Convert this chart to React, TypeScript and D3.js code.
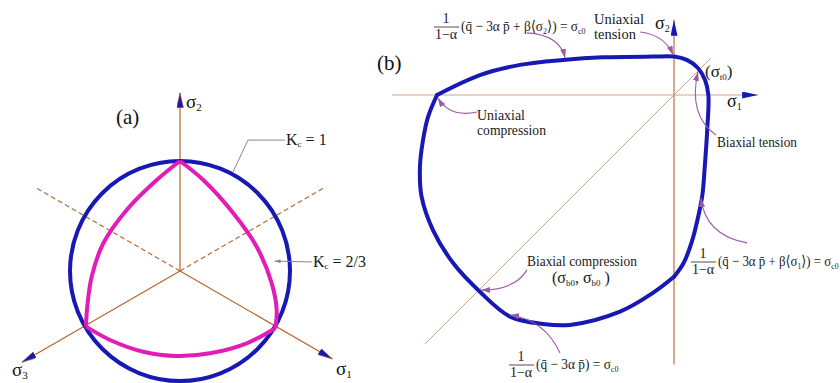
import React, { useLayoutEffect, useRef, useState } from 'react';
import * as d3 from 'd3';

// ---------- Panel (a): deviatoric plane ----------
// Principal stress axes: angle in degrees (counter-clockwise from +x), length in units of the circle radius
const axisNamesA = ['1', '2', '3'];
const axisAnglesA = [-30, 90, 210];
const axisLengthsA = [1.6, 1.62, 1.66];
// Dashed projection lines
const dashAnglesA = [30, 150];
const dashLengthA = 1.5;
// Kc = 1 gives a circle of unit radius
const kcCircleRadius = 1;
// Kc = 2/3 section, three sides between the meridian vertices (unit coordinates, y up)
const kcTwoThirdsSides: [number, number][][] = [
  [[0, 1], [0.212, 0.827], [0.485, 0.525], [0.697, 0.221], [0.834, -0.112], [0.879, -0.355], [0.866, -0.52]],
  [[0.866, -0.52], [0.606, -0.657], [0.273, -0.748], [-0.03, -0.773], [-0.334, -0.734], [-0.636, -0.627], [-0.855, -0.506]],
  [[-0.855, -0.506], [-0.843, -0.325], [-0.803, -0.052], [-0.697, 0.252], [-0.485, 0.555], [-0.212, 0.827], [0, 1]],
];
const kcLabelTexts = ['1', '2/3'];
const kcLeaders: [number, number][][] = [
  [[0.955, 1.19], [0.618, 1.19], [0.482, 0.9]],
  [[1.2, 0.082], [0.86, 0.09]],
];

// ---------- Panel (b): plane stress yield surface (σ1, σ2), normalised by σc0 ----------
const yieldUpper: [number, number][] = [
  [-1.0, 0], [-0.819, 0.084], [-0.65, 0.127], [-0.468, 0.148], [-0.3, 0.159], [-0.089, 0.162], [0, 0.162],
  [0.054, 0.148], [0.101, 0.114], [0.131, 0.063], [0.145, 0], [0.14, -0.15], [0.13, -0.3],
  [0.12, -0.42], [0.105, -0.5], [0.075, -0.62], [0.04, -0.71], [0, -0.767],
];
const yieldLower: [number, number][] = [
  [0, -0.767], [-0.089, -0.835], [-0.228, -0.914], [-0.439, -0.97], [-0.553, -0.966], [-0.692, -0.935],
  [-0.819, -0.83], [-0.932, -0.709], [-1.017, -0.57], [-1.065, -0.429], [-1.072, -0.304], [-1.059, -0.19],
  [-1.038, -0.093], [-1.0, 0],
];
// Axis extents
const sigma1Extent = [-1.19, 0.355];
const sigma2Extent = [-1.137, 0.317];
const diagonalExtent = [-1.05, 0.155];
// Annotation arrows: start, control, end
const annotationArrows: [number, number][][] = [
  [[-0.62, 0.262], [-0.481, 0.253], [-0.46, 0.156]],
  [[-0.143, 0.266], [-0.038, 0.253], [-0.004, 0.169]],
  [[0.177, -0.169], [0.059, -0.084], [0.101, 0.097]],
  [[-0.831, -0.072], [-0.945, -0.097], [-0.996, -0.013]],
  [[0.308, -0.624], [0.131, -0.591], [0.114, -0.435]],
  [[-0.62, -0.738], [-0.671, -0.823], [-0.814, -0.823]],
  [[-0.481, -1.089], [-0.544, -0.949], [-0.692, -0.928]],
];

const BLUE = '#1818b4';
const PINK = '#e21cb6';
const BROWN = '#b8642e';
const TAN = '#d6a484';
const PURPLE = '#9a5aa6';
const SERIF = "'Liberation Serif', 'Times New Roman', Tinos, 'DejaVu Serif', serif";

// Scales
const xa = d3.scaleLinear().domain([-1, 1]).range([70, 290]);
const ya = d3.scaleLinear().domain([-1, 1]).range([381, 161]);
const xb = d3.scaleLinear().domain([-1, 0]).range([437, 674]);
const yb = d3.scaleLinear().domain([0, -1]).range([95, 332]);

const rad = (deg: number) => (deg * Math.PI) / 180;

const lineA = d3
  .line<[number, number]>()
  .x((d) => xa(d[0]))
  .y((d) => ya(d[1]))
  .curve(d3.curveCatmullRom.alpha(0.5));
const lineB = d3
  .line<[number, number]>()
  .x((d) => xb(d[0]))
  .y((d) => yb(d[1]))
  .curve(d3.curveCatmullRom.alpha(0.5));

const serifStyle = { fontFamily: SERIF };

function Sub({ children, size = 9 }: { children: React.ReactNode; size?: number }) {
  return (
    <tspan fontSize={size} dy={3}>
      {children}
    </tspan>
  );
}

// Text stretched horizontally to a given width
function FitText({ x, y, width, children }: { x: number; y: number; width: number; children: React.ReactNode }) {
  const ref = useRef<SVGTextElement>(null);
  const [sx, setSx] = useState(1);
  useLayoutEffect(() => {
    const el = ref.current;
    if (!el) return;
    const w = el.getBBox().width;
    if (w > 0) setSx(width / w);
  }, [width]);
  return (
    <g transform={`translate(${x},${y}) scale(${sx},1)`}>
      <text ref={ref} x={0} y={0}>{children}</text>
    </g>
  );
}

// Fraction 1/(1−α) followed by the rest of the yield condition
function Formula({ x, y, width, body }: { x: number; y: number; width: number; body: React.ReactNode }) {
  return (
    <g style={serifStyle} fontSize={14} fill="#222">
      <text x={x + 13} y={y - 8} textAnchor="middle">1</text>
      <line x1={x + 1} x2={x + 26} y1={y - 4} y2={y - 4} stroke="#222" strokeWidth={0.8} />
      <text x={x + 13} y={y + 8} textAnchor="middle">1−α</text>
      <g fontSize={15}>
        <FitText x={x + 28} y={y} width={width}>{body}</FitText>
      </g>
    </g>
  );
}

export default function App() {
  const cx = xa(0);
  const cy = ya(0);
  const pinkPath = kcTwoThirdsSides.map((s) => lineA(s)).join(' ');

  return (
    <svg
      width={840}
      height={383}
      viewBox="0 0 840 383"
      style={{ position: 'absolute', left: 0, top: 0, background: '#fff' }}
    >
      <defs>
        <marker id="axArrow" viewBox="0 0 15 7" refX={15} refY={3.5} markerWidth={15} markerHeight={7}
          markerUnits="userSpaceOnUse" orient="auto">
          <path d="M0,0 L15,3.5 L0,7 Z" fill={BLUE} stroke={BROWN} strokeWidth={0.6} />
        </marker>
        <marker id="axArrowB" viewBox="0 0 16 7" refX={16} refY={3.5} markerWidth={16} markerHeight={7}
          markerUnits="userSpaceOnUse" orient="auto">
          <path d="M0,0 L16,3.5 L0,7 Z" fill={BLUE} />
        </marker>
        <marker id="purpleArrow" viewBox="0 0 9 6" refX={9} refY={3} markerWidth={9} markerHeight={6}
          markerUnits="userSpaceOnUse" orient="auto">
          <path d="M0,0 L9,3 L0,6 Z" fill={PURPLE} />
        </marker>
        <marker id="grayArrow" viewBox="0 0 6 4" refX={6} refY={2} markerWidth={6} markerHeight={4}
          markerUnits="userSpaceOnUse" orient="auto">
          <path d="M0,0 L6,2 L0,4 Z" fill="#888" />
        </marker>
      </defs>

      {/* ---------- (a) ---------- */}
      <g>
        {dashAnglesA.map((a) => (
          <line key={a} x1={cx} y1={cy}
            x2={xa(dashLengthA * Math.cos(rad(a)))} y2={ya(dashLengthA * Math.sin(rad(a)))}
            stroke={BROWN} strokeWidth={1.1} strokeDasharray="5,3" />
        ))}
        {axisAnglesA.map((a, i) => (
          <line key={a} x1={cx} y1={cy}
            x2={xa(axisLengthsA[i] * Math.cos(rad(a)))} y2={ya(axisLengthsA[i] * Math.sin(rad(a)))}
            stroke={BROWN} strokeWidth={1.2} markerEnd="url(#axArrow)" />
        ))}
        <circle cx={cx} cy={cy} r={xa(kcCircleRadius) - cx} fill="none" stroke={BLUE} strokeWidth={4} />
        <path d={pinkPath} fill="none" stroke={PINK} strokeWidth={4} strokeLinejoin="miter" />

        {kcLeaders.map((pts, i) => (
          <polyline key={i} points={pts.map((p) => `${xa(p[0])},${ya(p[1])}`).join(' ')}
            fill="none" stroke="#888" strokeWidth={1} markerEnd={i === 1 ? 'url(#grayArrow)' : undefined} />
        ))}
        <g style={serifStyle} fontSize={16} fill="#1a1a1a">
          {kcLabelTexts.map((t, i) => (
            <text key={t} x={xa(kcLeaders[i][0][0]) + 1} y={ya(kcLeaders[i][0][1]) + 5}>
              K<tspan fontSize={9} dy={2}>c</tspan>
              <tspan dy={-2}> = {t}</tspan>
            </text>
          ))}
        </g>
        <g style={serifStyle} fill="#111">
          <text x={116} y={124} fontSize={21}>(a)</text>
          <text x={186} y={108} fontSize={19}>σ<Sub size={11}>{axisNamesA[1]}</Sub></text>
          <text x={336} y={375} fontSize={19}>σ<Sub size={11}>{axisNamesA[0]}</Sub></text>
          <text x={12} y={376} fontSize={19}>σ<Sub size={11}>{axisNamesA[2]}</Sub></text>
        </g>
      </g>

      {/* ---------- (b) ---------- */}
      <g>
        <line x1={xb(sigma1Extent[0])} x2={xb(sigma1Extent[1])} y1={yb(0)} y2={yb(0)}
          stroke={TAN} strokeWidth={1.1} markerEnd="url(#axArrowB)" />
        <line x1={xb(0)} x2={xb(0)} y1={yb(sigma2Extent[0])} y2={yb(sigma2Extent[1])}
          stroke={BROWN} strokeWidth={1.1} markerEnd="url(#axArrowB)" />
        <line x1={xb(diagonalExtent[0])} y1={yb(diagonalExtent[0])} x2={xb(diagonalExtent[1])} y2={yb(diagonalExtent[1])}
          stroke={TAN} strokeWidth={1} />

        <path d={lineB(yieldUpper) ?? ''} fill="none" stroke={BLUE} strokeWidth={4} strokeLinecap="round" />
        <path d={lineB(yieldLower) ?? ''} fill="none" stroke={BLUE} strokeWidth={4} strokeLinecap="round" />

        {annotationArrows.map((a, i) => (
          <path key={i}
            d={`M${xb(a[0][0])},${yb(a[0][1])} Q${xb(a[1][0])},${yb(a[1][1])} ${xb(a[2][0])},${yb(a[2][1])}`}
            fill="none" stroke={PURPLE} strokeWidth={1.1} markerEnd="url(#purpleArrow)" />
        ))}

        <g style={serifStyle} fill="#111">
          <text x={377} y={70} fontSize={21}>(b)</text>
          <text x={655} y={29} fontSize={18}>σ<Sub size={10}>2</Sub></text>
          <text x={727} y={107} fontSize={18}>σ<Sub size={10}>1</Sub></text>
        </g>

        <g style={serifStyle} fontSize={14.5} fill="#1a1a1a">
          <text x={594} y={24}>Uniaxial</text>
          <text x={594} y={39}>tension</text>
          <text x={477} y={120} fontSize={14} textLength={48} lengthAdjust="spacingAndGlyphs">Uniaxial</text>
          <text x={477} y={135} fontSize={14} textLength={69} lengthAdjust="spacingAndGlyphs">compression</text>
          <text x={717} y={147} textLength={80} lengthAdjust="spacingAndGlyphs">Biaxial tension</text>
          <text x={527} y={266} textLength={110} lengthAdjust="spacingAndGlyphs">Biaxial compression</text>
          <text x={552} y={283} fontSize={16}>
            (σ<Sub size={9}>b0</Sub><tspan dy={-3}>, σ</tspan><Sub size={9}>b0</Sub><tspan dy={-3}>  )</tspan>
          </text>
          <text x={705} y={77} fontSize={17}>
            (σ<Sub size={9}>t0</Sub><tspan dy={-3}>)</tspan>
          </text>
        </g>

        <Formula x={433} y={31} width={125}
          body={<>(q̄ − 3α p̄ + β⟨σ<Sub size={9}>2</Sub><tspan dy={-3}>⟩) = σ</tspan><Sub size={9}>c0</Sub></>} />
        <Formula x={690} y={266} width={121}
          body={<>(q̄ − 3α p̄ + β⟨σ<Sub size={9}>1</Sub><tspan dy={-3}>⟩) = σ</tspan><Sub size={9}>c0</Sub></>} />
        <Formula x={508} y={369} width={83}
          body={<>(q̄ − 3α p̄) = σ<Sub size={9}>c0</Sub></>} />
      </g>
    </svg>
  );
}
